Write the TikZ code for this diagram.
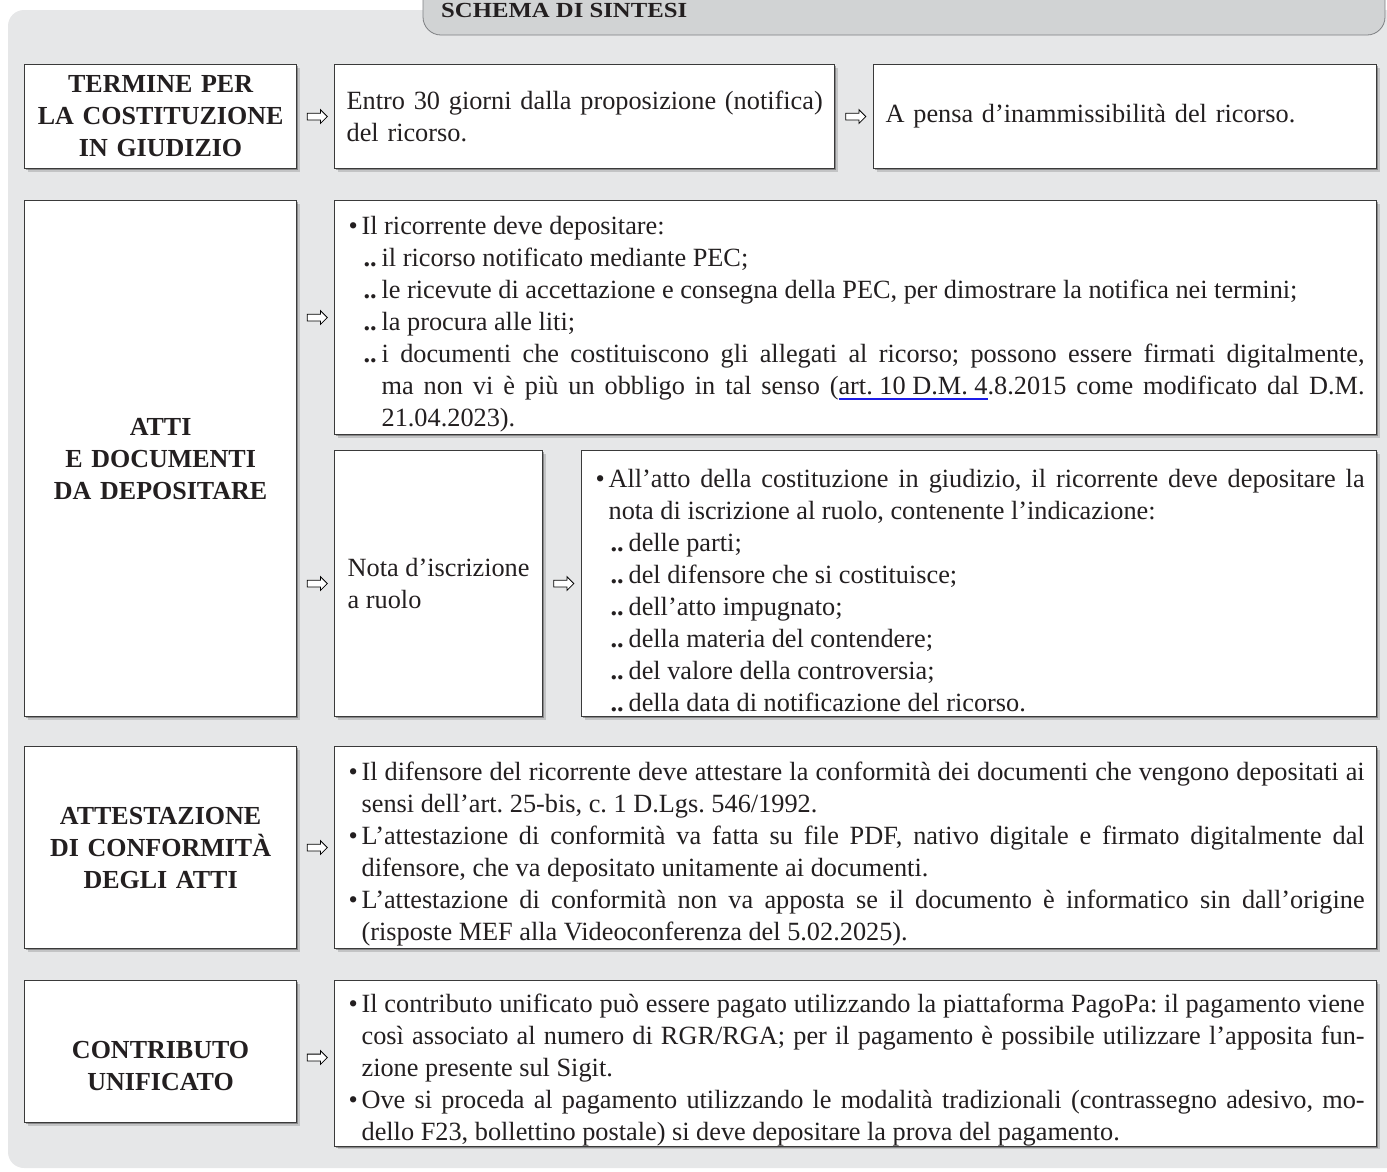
\documentclass[tikz,border=0pt]{standalone}
\usepackage{fontspec}
\setmainfont{Liberation Serif}
\usetikzlibrary{shapes.arrows,shadows,calc}
\definecolor{panel}{HTML}{E6E7E8}
\definecolor{tabfill}{HTML}{D1D3D4}
\definecolor{tabline}{HTML}{7D7F82}
\definecolor{boxline}{HTML}{3A3A3A}
\definecolor{ink}{HTML}{231F20}
\definecolor{ulblue}{HTML}{1C1CE8}
\hyphenpenalty=10000\relax
\exhyphenpenalty=10000\relax
\tolerance=9999\relax
\frenchspacing
\newcommand\bl{\par\hangindent=15pt\hangafter=1\noindent\makebox[15pt][l]{\hspace*{2pt}\textbullet}}
\newcommand\dd{\par\hangindent=35pt\hangafter=1\noindent\hspace*{17pt}\makebox[18pt][l]{\textbf{..}}}
\newcommand\myul[1]{\setbox0\hbox{#1}\rlap{\color{ulblue}\rule[-5pt]{\wd0}{2pt}}\box0}
\newcommand\txtfont{\fontsize{26.3}{32}\selectfont\fontdimen4\font=3pt\relax}
\tikzset{
  box/.style={draw=boxline, line width=1.2pt, fill=white, anchor=north west, text=ink,
    inner xsep=12pt, inner ysep=0pt,
    drop shadow={shadow xshift=3pt, shadow yshift=-3pt, opacity=0.15, fill=black},
    drop shadow={shadow xshift=1.5pt, shadow yshift=-1.5pt, opacity=0.3, fill=black},
    font=\txtfont},
  lbl/.style={align=center, text=ink, font=\bfseries\fontsize{26}{32}\selectfont},
  arr/.style={single arrow, draw=black, fill=white, line width=0.8pt, minimum height=20pt,
    inner xsep=0pt, inner ysep=3pt, text height=0pt, text depth=0pt,
    single arrow head extend=3.5pt, single arrow head indent=0pt}
}
\begin{document}
\begin{tikzpicture}[x=1pt,y=-1pt]
\useasboundingbox (0,0) rectangle (1387,1171);
\fill[panel, rounded corners=16pt] (8,10) rectangle (1430,1168);
\draw[fill=tabfill, draw=tabline, line width=0.8pt, rounded corners=18pt] (423,-40) -- (423,35) -- (1385,35) -- (1385,-40);
\node[anchor=base west, text=ink, font=\bfseries\fontsize{21.5}{22}\selectfont, inner sep=0pt, xscale=1.15, transform shape] (title) at (441,17) {SCHEMA DI SINTESI};

% Row 1
\node[box, text width=250pt, minimum height=104pt, align=center, inner xsep=11pt, font=\bfseries\fontsize{26}{32}\selectfont] (L1) at (24,64)
  {TERMINE PER\\LA COSTITUZIONE\\IN GIUDIZIO};
\node[box, text width=476pt, minimum height=104pt, align=left, inner xsep=12pt] (B1a) at (334,64)
  {\mbox{Entro 30 giorni dalla proposizione (notifica)}\\del ricorso.};
\node[box, text width=479pt, minimum height=104pt, align=left, inner xsep=12pt] (B1b) at (873,64)
  {A pensa d’inammissibilità del ricorso.};
\node[arr] (a11) at ($(L1.east)!0.5!(B1a.west)$) {};
\node[arr] (a12) at ($(B1a.east)!0.5!(B1b.west)$) {};

% Row 2
\node[box, text width=250pt, minimum height=516pt, align=center, inner xsep=11pt, font=\bfseries\fontsize{26}{32}\selectfont] (L2) at (24,200)
  {ATTI\\E DOCUMENTI\\DA DEPOSITARE};
\node[box, text width=1018pt, minimum height=234pt, align=justify] (B2a) at (334,200)
  {\bl Il ricorrente deve depositare:
   \dd il ricorso notificato mediante PEC;
   \dd le ricevute di accettazione e consegna della PEC, per dimostrare la notifica nei termini;
   \dd la procura alle liti;
   \dd i documenti che costituiscono gli allegati al ricorso; possono essere firmati digitalmente,\linebreak
   ma non vi è più un obbligo in tal senso (\myul{art. 10 D.M. 4}.8.2015 come modificato dal D.M.\linebreak
   21.04.2023).\par};
\node[box, minimum width=208pt, minimum height=266pt, align=left, inner xsep=0pt] (B2b) at (334,450)
  {Nota d’iscrizione\\a ruolo};
\node[box, text width=771pt, minimum height=266pt, align=justify] (B2c) at (581,450)
  {\bl All’atto della costituzione in giudizio, il ricorrente deve depositare la\linebreak
   nota di iscrizione al ruolo, contenente l’indicazione:
   \dd delle parti;
   \dd del difensore che si costituisce;
   \dd dell’atto impugnato;
   \dd della materia del contendere;
   \dd del valore della controversia;
   \dd della data di notificazione del ricorso.\par};
\node[arr] (a21) at ($(L2.east |- B2a.west)!0.5!(B2a.west)$) {};
\node[arr] (a22) at ($(L2.east |- B2b.west)!0.5!(B2b.west)$) {};
\node[arr] (a23) at ($(B2b.east)!0.5!(B2c.west)$) {};

% Row 3
\node[box, text width=250pt, minimum height=202pt, align=center, inner xsep=11pt, font=\bfseries\fontsize{26}{32}\selectfont] (L3) at (24,746)
  {ATTESTAZIONE\\DI CONFORMITÀ\\DEGLI ATTI};
\node[box, text width=1018pt, minimum height=202pt, align=justify] (B3) at (334,746)
  {\bl Il difensore del ricorrente deve attestare la conformità dei documenti che vengono depositati ai\linebreak
   sensi dell’art. 25-bis, c. 1 D.Lgs. 546/1992.
   \bl L’attestazione di conformità va fatta su file PDF, nativo digitale e firmato digitalmente dal\linebreak
   difensore, che va depositato unitamente ai documenti.
   \bl L’attestazione di conformità non va apposta se il documento è informatico sin dall’origine\linebreak
   (risposte MEF alla Videoconferenza del 5.02.2025).\par};
\node[arr] (a31) at ($(L3.east)!0.5!(B3.west)$) {};

% Row 4
\node[box, minimum width=272pt, minimum height=142pt] (L4) at (24,980) {};
\node[lbl] (L4t) at ([yshift=-14pt]L4.center) {CONTRIBUTO\\UNIFICATO};
\node[box, text width=1018pt, minimum height=142pt, align=justify] (B4) at (334,980)
  {\bl Il contributo unificato può essere pagato utilizzando la piattaforma PagoPa: il pagamento viene\linebreak
   così associato al numero di RGR/RGA; per il pagamento è possibile utilizzare l’apposita fun-\linebreak
   zione presente sul Sigit.
   \bl Ove si proceda al pagamento utilizzando le modalità tradizionali (contrassegno adesivo, mo-\linebreak
   dello F23, bollettino postale) si deve depositare la prova del pagamento.\par};
\node[arr] (a41) at ($(L4.east)!0.5!(B4.west)$) {};
\end{tikzpicture}
\end{document}
